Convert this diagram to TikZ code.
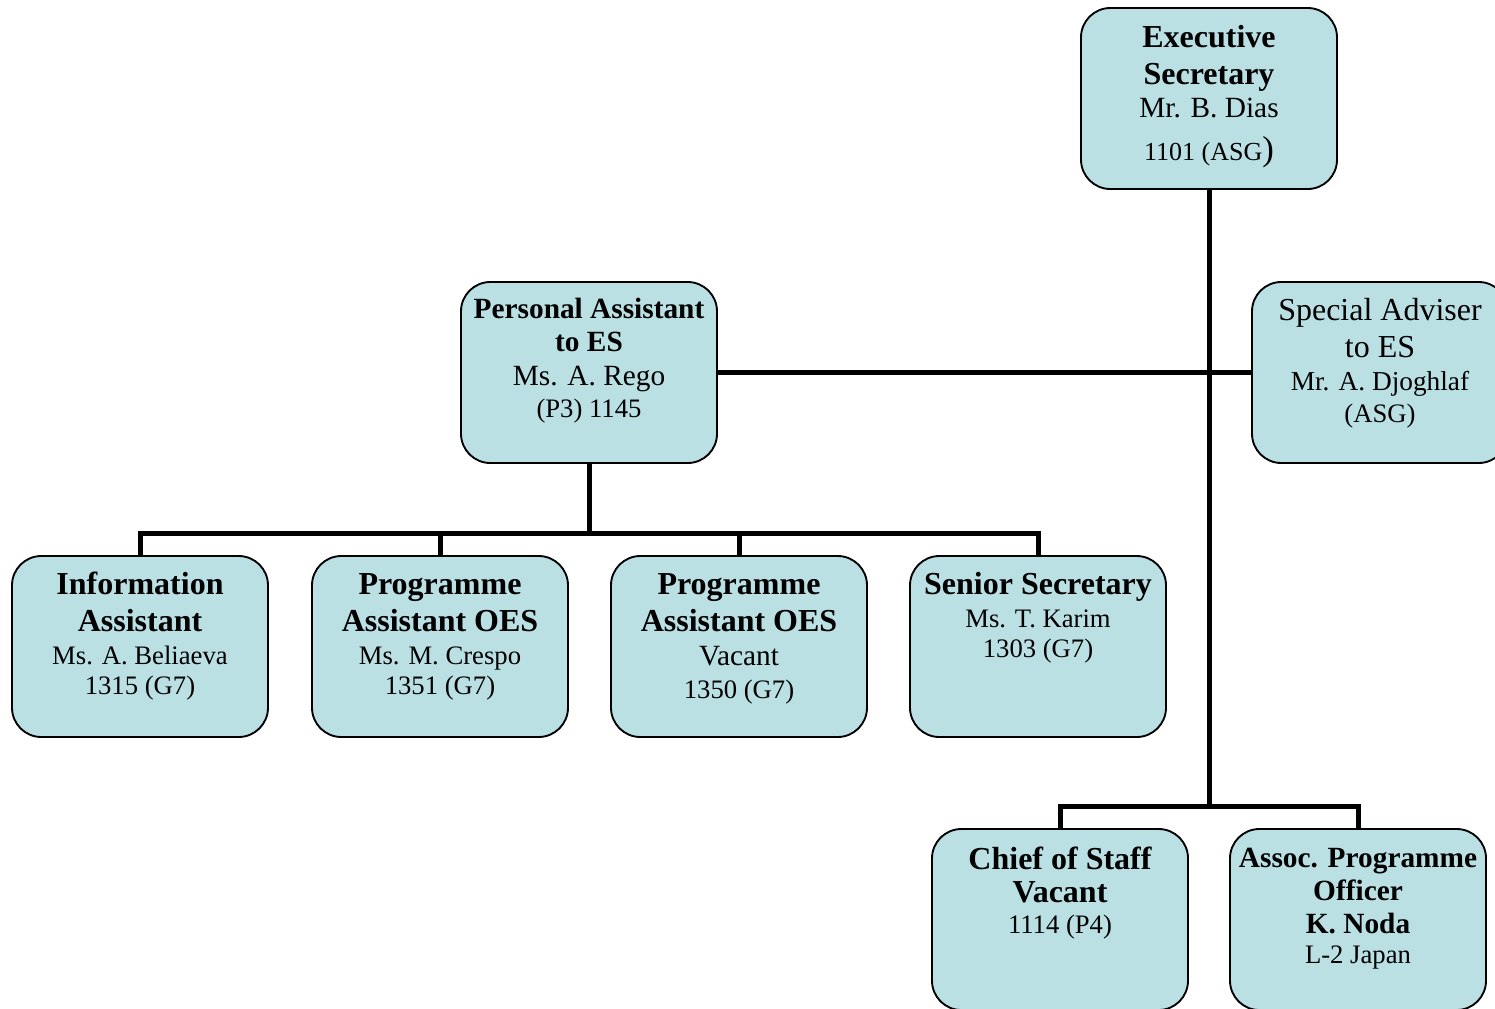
\documentclass[tikz,border=0pt]{standalone}
\usepackage{fontspec}
\setmainfont{Liberation Serif}
\definecolor{boxfill}{RGB}{186,224,228}
\begin{document}
\begin{tikzpicture}[x=0.75pt,y=-0.75pt,
  orgbox/.style={draw=black, line width=1.4pt, fill=boxfill, rounded corners=22pt,
    minimum width=192pt, minimum height=135.75pt, inner sep=0pt},
  conn/.style={line width=3.75pt, draw=black},
  tb/.style={anchor=base, inner sep=0pt, font=\fontsize{24}{28}\selectfont\bfseries},
  tbs/.style={anchor=base, inner sep=0pt, font=\fontsize{22}{26}\selectfont\bfseries},
  tr/.style={anchor=base, inner sep=0pt, font=\fontsize{22}{26}\selectfont},
  ts/.style={anchor=base, inner sep=0pt, font=\fontsize{20}{24}\selectfont},
]
\useasboundingbox (0,0) rectangle (1495,1008);
\clip (0,0) rectangle (1495,1008);

% boxes
\node[orgbox] (es)    at (1209,98.5)  {};
\node[orgbox] (pa)    at (589,372.5)  {};
\node[orgbox] (sa)    at (1380,372.5) {};
\node[orgbox] (info)  at (140,646.5)  {};
\node[orgbox] (prog1) at (440,646.5)  {};
\node[orgbox] (prog2) at (739,646.5)  {};
\node[orgbox] (sen)   at (1038,646.5) {};
\node[orgbox] (chief) at (1060,919.5) {};
\node[orgbox] (assoc) at (1358,919.5) {};

% junctions
\coordinate (j1) at (589,533);
\coordinate (j2) at (1209,806);

% connectors
\draw[conn] (es.south) -- (j2);
\draw[conn] (chief.north) |- (j2) -| (assoc.north);
\draw[conn] (pa.east) -- (sa.west);
\draw[conn] (pa.south) -- (j1);
\draw[conn] (info.north) |- (j1) -| (sen.north);
\draw[conn] (prog1.north) -- (prog1.north |- j1);
\draw[conn] (prog2.north) -- (prog2.north |- j1);

% texts: Executive Secretary
\node[tb] (es1) at (1209,47) {Executive};
\node[tb] (es2) at (1209,84) {Secretary};
\node[tr] (es3) at (1209,117) {Mr. B. Dias};
\node[anchor=base, inner sep=0pt, font=\fontsize{19.5}{23}\selectfont] (es4) at (1209,160)
  {1101 (ASG{\fontsize{26}{30}\selectfont)}};

% Personal Assistant
\node[tbs] (pa1) at (589,318) {Personal Assistant};
\node[tbs] (pa2) at (589,351) {to ES};
\node[tr]  (pa3) at (589,385) {Ms. A. Rego};
\node[ts]  (pa4) at (589,417) {(P3) 1145};

% Special Adviser
\node[anchor=base, inner sep=0pt, font=\fontsize{24}{28}\selectfont] (sa1) at (1380,320) {Special Adviser};
\node[anchor=base, inner sep=0pt, font=\fontsize{24}{28}\selectfont] (sa2) at (1380,357) {to ES};
\node[anchor=base, inner sep=0pt, font=\fontsize{20.5}{24}\selectfont] (sa3) at (1380,390) {Mr. A. Djoghlaf};
\node[ts] (sa4) at (1380,422) {(ASG)};

% Information Assistant
\node[tb] (in1) at (140,594) {Information};
\node[tb] (in2) at (140,631) {Assistant};
\node[ts] (in3) at (140,664) {Ms. A. Beliaeva};
\node[ts] (in4) at (140,694) {1315 (G7)};

% Programme Assistant 1
\node[tb] (p11) at (440,594) {Programme};
\node[tb] (p12) at (440,631) {Assistant OES};
\node[ts] (p13) at (440,664) {Ms. M. Crespo};
\node[ts] (p14) at (440,694) {1351 (G7)};

% Programme Assistant 2
\node[tb] (p21) at (739,594) {Programme};
\node[tb] (p22) at (739,631) {Assistant OES};
\node[tr] (p23) at (739,665) {Vacant};
\node[ts] (p24) at (739,698) {1350 (G7)};

% Senior Secretary
\node[tb] (se1) at (1038,594) {Senior Secretary};
\node[ts] (se2) at (1038,627) {Ms. T. Karim};
\node[ts] (se3) at (1038,657) {1303 (G7)};

% Chief of Staff
\node[tb] (ch1) at (1060,869) {Chief of Staff};
\node[tb] (ch2) at (1060,902) {Vacant};
\node[ts] (ch3) at (1060,933) {1114 (P4)};

% Assoc. Programme Officer
\node[tbs] (as1) at (1358,867) {Assoc. Programme};
\node[tbs] (as2) at (1358,900) {Officer};
\node[tbs] (as3) at (1358,933) {K. Noda};
\node[ts]  (as4) at (1358,963) {L-2 Japan};
\end{tikzpicture}
\end{document}
